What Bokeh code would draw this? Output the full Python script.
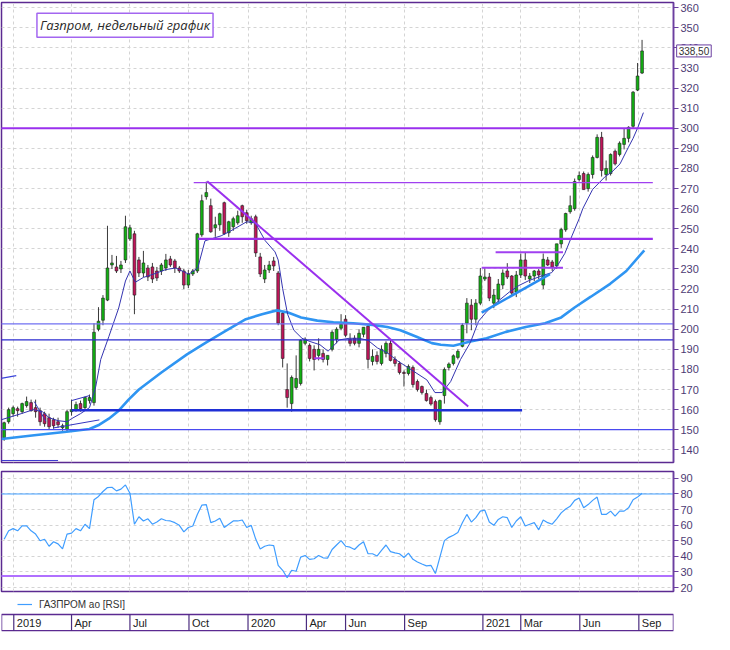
import pandas as pd
from bokeh.plotting import figure
from bokeh.models import (Range1d, FixedTicker, SingleIntervalTicker, Label, Legend,
                          LegendItem, ColumnDataSource)
from bokeh.layouts import column
from bokeh.embed import file_html
from bokeh.resources import INLINE
from bokeh.core.properties import value

# ---------------- data ----------------
FIRST_WEEK = "2018-12-17"

OPEN = [146, 154, 158, 160.5, 159, 162, 163.5, 161, 159.5, 158, 156, 155, 154, 151, 150, 159, 160, 163, 161, 164.5,
        163.5, 200, 204.5, 214.5, 232, 231, 230, 234.5, 245, 247.5, 234.5, 228, 230.5, 231, 229, 229, 230.5, 235, 234, 230.5,
        229, 222, 227.5, 229, 247, 266, 261.5, 250.5, 252, 263, 248, 251, 253, 261.5, 258, 253, 256, 236, 225, 229.5,
        234, 228, 208, 170, 163, 171, 173, 193, 192, 190, 187, 188, 185, 190, 195, 200.5, 205, 195, 195.5, 193,
        197.5, 201.5, 184, 187, 183, 188, 193, 185, 183, 178.5, 178, 181, 174, 171.5, 168, 166, 164, 154, 167, 181,
        183, 186, 191.5, 203, 212, 205, 213, 225, 226, 213, 215, 222, 229, 226.5, 218.5, 227, 234.5, 225, 226.5, 229,
        222, 234.5, 233.5, 231.5, 242.5, 249.5, 258.5, 260, 274.5, 277.5, 270, 277, 285.5, 295.5, 277, 277.5, 288.6, 287, 292, 295,
        301, 319, 327.5]
HIGH = [154, 161, 162, 161.5, 163.5, 166.5, 165, 165, 161, 159, 158, 156, 156, 153, 160, 165, 164, 164.5, 166.5, 167.5,
        203, 211, 217, 251.5, 237, 236.5, 234, 256.5, 252, 249, 236, 239, 232, 233, 231, 233, 237.5, 236.5, 235, 231.5,
        230, 229.5, 230, 248, 267, 273.5, 265, 256, 258, 263.5, 254, 256, 259, 262, 259.5, 256.5, 257, 238, 232, 234,
        236, 229, 209, 183, 177, 187, 195, 196, 193, 192, 195.5, 190, 187, 199.5, 201, 207.5, 207, 198, 197, 200,
        201, 202.5, 190, 189, 192, 194, 195, 186.5, 184, 179.5, 182.5, 182, 175, 172, 170, 167, 165, 165, 181, 183.5,
        187.5, 190, 203, 215.5, 215, 215, 230.5, 230.5, 228, 220, 225, 229.8, 232.9, 227, 229, 237.7, 238, 228, 229.5, 230,
        237.7, 236, 234.5, 242.5, 250.5, 258, 266.5, 275, 278.5, 278.5, 278, 286.5, 297, 298.2, 284, 287.5, 289.5, 293.5, 300, 301,
        318.5, 332.5, 344]
LOW = [144.5, 153, 156.5, 156.5, 158, 161, 159, 156, 152, 151.5, 150, 150.5, 151, 149.5, 149, 157, 159, 159, 160, 163,
       162, 199, 202, 214, 230, 228, 228, 233, 244, 207.5, 226, 226, 224, 223, 224, 227, 229, 231, 228, 228,
       220, 220.5, 226.5, 228, 246, 264.5, 248, 246, 249, 247, 246, 249, 252, 253, 252.5, 252, 236, 226, 223, 228,
       229, 202, 181, 161, 159, 170, 172, 192, 184, 179.5, 184.5, 183.5, 182, 189, 193, 199.5, 196, 191.5, 192, 191,
       196, 180.5, 182, 182.5, 182, 186, 184, 181.5, 177.5, 171.5, 177, 171, 169, 167.5, 164, 162, 154, 152.5, 163, 179.5,
       182, 185, 191, 198, 199.5, 202, 212, 224, 214, 210.5, 213, 220, 225, 216.5, 216, 225.5, 224.5, 223, 224, 225,
       220, 231.5, 229, 230, 240.5, 248.5, 257.5, 259, 273.5, 269.5, 268.5, 275, 285, 276, 274, 276.5, 281.5, 286, 289.5, 293,
       300, 318.5, 327]
CLOSE = [153.5, 160, 161, 159.5, 163, 164, 159.5, 159, 154, 153, 151.5, 152, 152.5, 152, 159, 160, 162.5, 160.5, 166, 166,
         198.5, 204, 215.5, 230.5, 233, 229, 232, 251, 250.5, 217, 228, 233, 226, 225, 225.5, 232, 234.5, 232, 230.5, 229,
         222, 227.5, 229, 247.5, 264, 268, 248.5, 252, 257.5, 247.5, 253.5, 255, 256.5, 256, 254, 255, 238, 227.5, 229.5, 232,
         231.5, 203, 185.5, 166, 176, 175.5, 194.5, 195, 185.5, 185, 190, 185, 187, 198.5, 200, 202.5, 197, 193, 193, 198,
         201, 185, 186.5, 184, 190, 193, 184.5, 183, 178.5, 178, 181.5, 172.5, 170, 168.5, 164.5, 162.8, 155, 164.5, 180, 182.7,
         186.8, 189, 202, 213, 205, 213, 226.5, 226, 215.5, 217, 222.5, 228, 226, 218, 227, 234.5, 226.5, 226.5, 229, 227,
         234.8, 232, 231, 242.5, 249.6, 257.6, 261.5, 273.5, 276.5, 269.5, 277, 285.5, 295.5, 279, 280, 287, 282.3, 292.6, 295, 300.5,
         318, 326, 338.5]

RSI = [51, 56.4, 57.8, 56.4, 59.5, 59.5, 56.4, 54.3, 50, 51,
       46.5, 49.4, 48, 44.8, 54.3, 54.9, 57.8, 56.4, 60.6, 57.8,
       76.3, 78.4, 81.6, 84.1, 84.3, 82, 83.1, 85.8, 80.5, 60.6,
       65.4, 62.7, 64.1, 60.6, 62, 64.1, 63, 62.7, 61.6, 59.9, 55.7,
       58.5, 59.5, 66.9, 72.8, 73.2, 61.6, 62.7, 64.4, 58.5, 60.6,
       62.7, 62.7, 63.3, 58.5, 59.9, 51.1, 44.8, 46.5, 47.3, 46.9,
       34.3, 31.1, 26.3, 31.1, 30.5, 39.5, 40.6, 38.1, 38.5, 40.6,
       39.1, 38.9, 44.4, 47.3, 50.1, 46.5, 45.9, 44.4, 47.3, 49.4,
       41.7, 41.7, 40.2, 43.8, 47.3, 43.1, 42.3, 41.7, 39.3, 42.1,
       38.1, 36.4, 35.1, 33.9, 34.3, 29, 39.5, 50.1, 52.2, 53.6,
       55.3, 61.6, 66.9, 62, 64.8, 69, 69.6, 62, 59.9, 63.7,
       65.4, 64.8, 58.5, 62.7, 65.4, 59.5, 60.6, 61.6, 57, 63.3,
       61.6, 60.6, 64.1, 67.9, 70.4, 72.1, 75.9, 77.4, 71.1, 73.2,
       75.9, 78, 66.9, 66.9, 69, 65.8, 69, 69, 71.1, 76.3,
       78, 80.5]

# short moving average: week offset, price
FAST_MA_WEEK = [-0.6, 3.8, 6.5, 8.5, 10, 12, 14, 15, 17, 19, 20.4, 21.5, 23.3, 25.5, 27, 28, 29.2, 31, 33.2, 36,
                38.2, 41.1, 43.1, 44.7, 48.3, 50.4, 54, 55.9, 58.1, 60.3, 61, 62, 63.1, 64.5, 66.3, 68.1, 70.3, 72.1,
                73.2, 74.6, 76.8, 79, 81, 83.1, 85.3, 87.5, 89.7, 91.9, 94.1, 95.9, 97.5, 99.4, 101.6, 103.8, 105.6,
                107.5, 110.3, 112.5, 114.6, 116.8, 119.7, 121.9, 123.3, 124.8, 126.4, 128, 128.8, 131, 132.4, 133.8,
                135.3, 137.1, 138.9, 140, 141.1, 142.3]
FAST_MA = [155, 158, 160, 159, 156, 154.5, 154, 155.5, 158, 161, 171.6, 185, 196.3, 210.6, 224, 229, 223.4, 225.8,
           227.4, 229.7, 230.5, 227.4, 230.5, 244, 246.5, 248.9, 253.5, 252.9, 244.1, 238.5, 234.5, 220.2, 207.5,
           199.5, 195.5, 193.9, 192.3, 189.1, 191.5, 194.7, 195.5, 195.5, 194.5, 190.7, 188.3, 184.4, 181.2, 178,
           174.8, 168.5, 168.5, 174, 185, 193.5, 204, 209, 214.6, 218.6, 221.8, 224.2, 226.6, 228.2, 232.2, 237.7,
           246.5, 255, 260, 269.6, 272.8, 276, 278.3, 282.3, 290.3, 295, 300.6, 307.8]

# long moving average
SLOW_MA_WEEK = [-0.6, 6.7, 13.9, 19, 21.2, 23.3, 25.5, 27.7, 30, 35, 40.7, 45, 49.5, 53.8, 57.4, 60.7, 63.2, 66.1,
                69.7, 73.3, 77.7, 82, 85.3, 88.2, 91.8, 95.2, 97.2, 100, 103.8, 107.4, 111.7, 116.1, 120.4, 124,
                126.9, 130.6, 134.9, 138.5, 142.5]
SLOW_MA = [145.4, 147.3, 149, 150.4, 152.5, 155.5, 159.5, 165, 170, 178.5, 187.5, 193.5, 199.5, 205, 207.5, 209.4,
           208.3, 205.9, 204.3, 203.5, 203, 202.2, 201.1, 199.5, 196.3, 193.1, 192.3, 191.8, 193.9, 195.5, 198.7,
           201.1, 203, 205.9, 210.7, 216.2, 222.6, 229, 239.3]

# horizontal levels: price, first week, last week
LEVEL_PRICE = [300, 273, 245, 238.3, 230.6, 202.7, 194.7, 159.7, 150.1, 185.6, 134.7]
LEVEL_FROM = [-0.7, 42.2, 43.1, 109.4, 106.3, -0.7, -0.7, 15, -0.7, 69, -0.7]
LEVEL_TO = [149.2, 144.4, 144.4, 124.4, 124.4, 149.2, 149.2, 115.3, 149.2, 71.2, 12]

# sloped trend lines: (week, price) -> (week, price)
TREND_W0 = [45.2, 106.3, -0.7, 6.7, 11, 15]
TREND_P0 = [273.6, 208.3, 175.6, 164, 150.9, 164.5]
TREND_W1 = [103.3, 121.5, 2.7, 9.3, 21.2, 19]
TREND_P1 = [161.6, 227.4, 176.9, 154.2, 154.9, 167]

RSI_LEVELS = [80, 27.5]

DATE_TICKS = ["2019-01-01", "2019-04-01", "2019-07-01", "2019-10-01", "2020-01-01", "2020-04-01",
              "2020-06-01", "2020-09-01", "2021-01-01", "2021-03-01", "2021-06-01", "2021-09-01"]
DATE_LABELS = ["2019", "Apr", "Jul", "Oct", "2020", "Apr", "Jun", "Sep", "2021", "Mar", "Jun", "Sep"]

TITLE = "Газпром, недельный график"
LAST_PRICE = 338.5
LAST_PRICE_TEXT = "338,50"
LEGEND_TEXT = "ГАЗПРОМ ао [RSI]"

# ---------------- helpers / styles ----------------
EPOCH = pd.Timestamp("1970-01-01")
WEEK_MS = 7 * 24 * 3600 * 1000
START_MS = (pd.Timestamp(FIRST_WEEK) - EPOCH).total_seconds() * 1000


def wk(w):
    return START_MS + w * WEEK_MS


def date_ms(s):
    return (pd.Timestamp(s) - EPOCH).total_seconds() * 1000


TICK_MS = [date_ms(d) for d in DATE_TICKS]

AXIS_COL = "#6b3fa0"
LABEL_COL = "#4d3b73"
FRAME_COL = "#5b2a91"
GRID_COL = "#d4d4d4"
SANS = "Liberation Sans"
UP_COL = "#12b012"
DOWN_COL = "#c0155a"
RSI_COL = "#3f9dff"

LEVEL_COLORS = ["#9a30ee", "#a040f0", "#9a30ee", "#a040f0", "#a040f0", "#7070f2", "#2b2bd0", "#1f2fd6",
                "#4a4af0", "#a040f0", "#3c3cd0"]
LEVEL_WIDTHS = [2, 1.3, 2.2, 2, 2, 1.2, 1.2, 2.5, 1.2, 2, 1]
TREND_COLORS = ["#9a30ee", "#2a8cf0", "#3c46dc", "#3535c0", "#3535c0", "#3535c0"]
TREND_WIDTHS = [2, 2.5, 1.2, 1, 1, 1]

X0, X1 = wk(-0.59), wk(149.0)
x_range = Range1d(X0, X1)
FRAME_W = 672
RIGHT_B = 41


def style_frame(fig):
    fig.background_fill_color = "white"
    fig.border_fill_color = "white"
    fig.outline_line_color = FRAME_COL
    fig.outline_line_width = 1.5
    fig.xgrid.ticker = FixedTicker(ticks=TICK_MS)
    for g in (fig.xgrid, fig.ygrid):
        g.grid_line_color = GRID_COL
        g.grid_line_dash = "3 3"
        g.grid_line_width = 1
    ax = fig.yaxis[0]
    ax.ticker = SingleIntervalTicker(interval=10, num_minor_ticks=0)
    ax.axis_line_color = AXIS_COL
    ax.axis_line_width = 1.5
    ax.major_tick_line_color = AXIS_COL
    ax.major_tick_out = 5
    ax.major_tick_in = 0
    ax.minor_tick_out = 0
    ax.minor_tick_in = 0
    ax.major_label_text_font_size = "11px"
    ax.major_label_text_font = SANS
    ax.major_label_text_color = LABEL_COL
    ax.major_label_standoff = 2


# ---------------- main price panel ----------------
p = figure(x_range=x_range, y_range=Range1d(133.7, 362.6), frame_width=FRAME_W, frame_height=460,
           min_border_left=1, min_border_right=RIGHT_B, min_border_top=2, min_border_bottom=5,
           x_axis_location=None, y_axis_location="right", toolbar_location=None,
           output_backend="svg")
style_frame(p)

xs = [wk(i) for i in range(len(CLOSE))]
src = ColumnDataSource(dict(
    x=xs, o=OPEN, h=HIGH, l=LOW, c=CLOSE,
    top=[max(o, c) for o, c in zip(OPEN, CLOSE)],
    bottom=[min(o, c) for o, c in zip(OPEN, CLOSE)],
    col=[UP_COL if c >= o else DOWN_COL for o, c in zip(OPEN, CLOSE)],
))
p.segment(x0="x", y0="l", x1="x", y1="h", source=src, line_color="#3a3a3a", line_width=1)
p.vbar(x="x", width=0.62 * WEEK_MS, top="top", bottom="bottom", source=src,
       fill_color="col", line_color="#1e1e1e", line_width=0.6)

p.line([wk(w) for w in SLOW_MA_WEEK], SLOW_MA, line_color="#2f95f2", line_width=2.6)
p.line([wk(w) for w in FAST_MA_WEEK], FAST_MA, line_color="#3434b0", line_width=1)

p.segment(x0=[wk(w) for w in LEVEL_FROM], y0=LEVEL_PRICE, x1=[wk(w) for w in LEVEL_TO], y1=LEVEL_PRICE,
          line_color=LEVEL_COLORS, line_width=LEVEL_WIDTHS)
p.segment(x0=[wk(w) for w in TREND_W0], y0=TREND_P0, x1=[wk(w) for w in TREND_W1], y1=TREND_P1,
          line_color=TREND_COLORS, line_width=TREND_WIDTHS)

p.add_layout(Label(x=wk(7.3), y=357.3, text=TITLE, text_font="Open Sans",
                   text_font_style="italic", text_font_size="13px", text_color="#2a2a2a",
                   text_baseline="top", text_align="left",
                   background_fill_color="white", border_line_color="#a366f0", border_line_width=1.5,
                   padding=3))
# last-price tag, placed in the right side panel so that it is not clipped to the frame
p.add_layout(Label(x=wk(149.7), y=LAST_PRICE, text=LAST_PRICE_TEXT, text_font=SANS,
                   text_font_size="10px", text_color="#333333", text_baseline="middle",
                   text_align="left", background_fill_color="white", border_line_color=AXIS_COL,
                   border_line_width=1, padding=2), "right")

# ---------------- RSI panel ----------------
r = figure(x_range=x_range, y_range=Range1d(17.5, 94.4), frame_width=FRAME_W, frame_height=120,
           min_border_left=1, min_border_right=RIGHT_B, min_border_top=4, min_border_bottom=3,
           x_axis_location=None, y_axis_location="right", toolbar_location=None,
           output_backend="svg")
style_frame(r)
r.segment(x0=[wk(-0.7)] * len(RSI_LEVELS), y0=RSI_LEVELS, x1=[wk(149.2)] * len(RSI_LEVELS), y1=RSI_LEVELS,
          line_color=[RSI_COL, "#b070ff"], line_width=[1, 2])
r.line(xs, RSI, line_color=RSI_COL, line_width=1.2)

# ---------------- legend row + date strip ----------------
STRIP_TOP = 17
b = figure(x_range=x_range, y_range=Range1d(0, 37), frame_width=FRAME_W, frame_height=37,
           min_border_left=1, min_border_right=RIGHT_B, min_border_top=0, min_border_bottom=1,
           x_axis_location=None, y_axis_location=None, toolbar_location=None,
           output_backend="svg")
b.background_fill_color = "white"
b.border_fill_color = "white"
b.outline_line_color = None
b.xgrid.visible = False
b.ygrid.visible = False
b.quad(left=[X0], right=[X1], bottom=[0.8], top=[STRIP_TOP], fill_color="white",
       line_color=FRAME_COL, line_width=1.5)
b.segment(x0=TICK_MS, y0=[0.8] * len(TICK_MS), x1=TICK_MS, y1=[STRIP_TOP] * len(TICK_MS),
          line_color="#4b2d7f", line_width=1.2)
b.text(x=TICK_MS, y=[STRIP_TOP / 2] * len(TICK_MS), text=DATE_LABELS, x_offset=3,
       text_font=value(SANS), text_font_size="11px", text_color="#222222",
       text_baseline="middle", text_align="left")
# legend key for the RSI series (its line lies outside the visible strip)
rsi_key = b.line(x=[X0, X1], y=[-50, -50], line_color=RSI_COL, line_width=1.2)
leg = Legend(items=[LegendItem(label=LEGEND_TEXT, renderers=[rsi_key])], location=(14, 19),
             orientation="horizontal", border_line_alpha=0, background_fill_alpha=0,
             label_text_font=SANS, label_text_font_size="10px", label_text_color="#333333",
             glyph_width=15, glyph_height=12, label_height=12, padding=2, margin=0, spacing=0,
             label_standoff=7)
b.add_layout(leg)

layout = column(p, r, b, spacing=0)
open("out.html", "w").write(file_html(layout, INLINE))
